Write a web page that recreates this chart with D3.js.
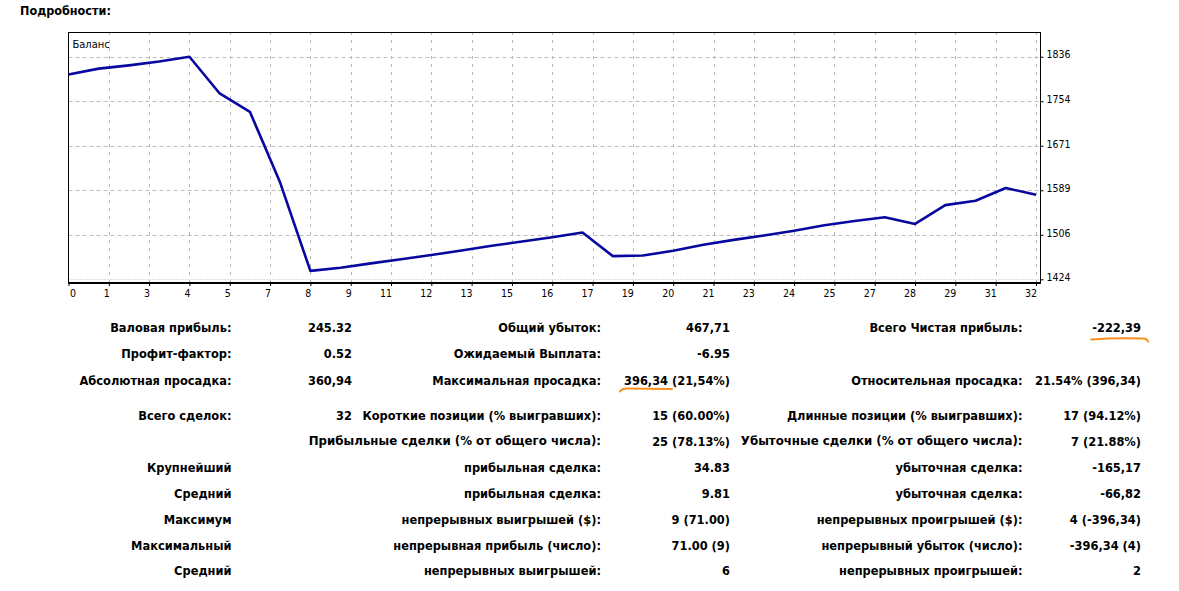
<!DOCTYPE html>
<html><head><meta charset="utf-8">
<script src="https://cdn.jsdelivr.net/npm/d3@7"></script>
<style>
body{margin:0;background:#fff;}
svg{display:block;}
</style></head><body>
<svg id="c" width="1179" height="591"></svg>
<script>
// ---- data ----
const tradeNo = [0,1,2,3,4,5,6,7,8,9,10,11,12,13,14,15,16,17,18,19,20,21,22,23,24,25,26,27,28,29,30,31,32];
const balance = [1803,1814,1820,1827,1836,1768,1734,1603,1439.66,1445.5,1453.5,1461,1469,1477.5,1486,1494,1502,1510.66,1467,1468,1477,1488,1497,1505,1514,1524,1532,1539,1526.5,1561.3,1569.5,1593,1580.6];
const xTickLabels = ["0","1","3","4","5","7","8","9","11","12","13","15","16","17","19","20","21","23","24","25","27","28","29","31","32"];
const yTickValues = [1424,1506.4,1588.8,1671.2,1753.6,1836];
const yTickLabels = ["1424","1506","1589","1671","1754","1836"];
const seriesName = "Баланс";
const titleText = "Подробности:";

const statLabels1 = ["Валовая прибыль:","Профит-фактор:","Абсолютная просадка:","Всего сделок:","","Крупнейший","Средний","Максимум","Максимальный","Средний"];
const statValues1 = ["245.32","0.52","360,94","32","","","","","",""];
const statLabels2 = ["Общий убыток:","Ожидаемый Выплата:","Максимальная просадка:","Короткие позиции (% выигравших):","Прибыльные сделки (% от общего числа):","прибыльная сделка:","прибыльная сделка:","непрерывных выигрышей ($):","непрерывная прибыль (число):","непрерывных выигрышей:"];
const statValues2 = ["467,71","-6.95","396,34 (21,54%)","15 (60.00%)","25 (78.13%)","34.83","9.81","9 (71.00)","71.00 (9)","6"];
const statLabels3 = ["Всего Чистая прибыль:","","Относительная просадка:","Длинные позиции (% выигравших):","Убыточные сделки (% от общего числа):","убыточная сделка:","убыточная сделка:","непрерывных проигрышей ($):","непрерывный убыток (число):","непрерывных проигрышей:"];
const statValues3 = ["-222,39","","21.54% (396,34)","17 (94.12%)","7 (21.88%)","-165,17","-66,82","4 (-396,34)","-396,34 (4)","2"];

// ---- layout ----
const svg = d3.select("#c");
const F = "'DejaVu Sans Condensed','Liberation Sans Narrow','Liberation Sans',sans-serif";
const P = {left:68.5, right:1040.5, top:32, bottom:283};
const x = d3.scaleLinear().domain([0,32]).range([68.5,1036]);
const y = d3.scaleLinear().domain([1417.2,1882.3]).range([283,31.7]);
const xTickPos = xTickLabels.map((d,i)=> i*32/(xTickLabels.length-1));

svg.append("text").attr("x",20).attr("y",14.5).text(titleText)
  .attr("font-family",F).attr("font-weight","bold").attr("font-size",12.5).attr("fill","#000");

// grid
const grid = svg.append("g");
grid.selectAll(".vg").data(xTickPos.slice(1)).join("line")
  .attr("x1",d=>Math.round(x(d))+0.5).attr("x2",d=>Math.round(x(d))+0.5)
  .attr("y1",P.top).attr("y2",P.bottom)
  .attr("stroke","#b8b8b8").attr("stroke-width",1).attr("stroke-dasharray","3,5");
grid.selectAll(".hg").data(yTickValues).join("line")
  .attr("x1",P.left).attr("x2",P.right)
  .attr("y1",d=>Math.round(y(d))+0.5).attr("y2",d=>Math.round(y(d))+0.5)
  .attr("stroke","#bdbdbd").attr("stroke-width",1)
  .attr("stroke-dasharray",(d,i)=> i===0 ? "1,2" : "4,3");

// frame
svg.append("rect").attr("x",P.left).attr("y",P.top+0.5).attr("width",P.right-P.left).attr("height",P.bottom-P.top-0.5)
  .attr("fill","none").attr("stroke","#000").attr("stroke-width",1);
svg.append("line").attr("x1",P.left-0.5).attr("x2",P.right+0.5).attr("y1",P.bottom).attr("y2",P.bottom)
  .attr("stroke","#000").attr("stroke-width",2);

// axes
const xa = svg.append("g").attr("transform",`translate(0,${P.bottom})`)
  .call(d3.axisBottom(x).tickValues(xTickPos).tickFormat((d,i)=>xTickLabels[i]).tickSizeInner(3).tickSizeOuter(0));
xa.select(".domain").remove();
xa.selectAll("line").attr("stroke","#000");
xa.selectAll("text").attr("font-family",F).attr("font-size",10.5).attr("fill","#000")
  .attr("y",7).attr("text-anchor",(d,i)=> i===0 ? "start":"end").attr("dx",(d,i)=> i===0 ? 1 : 0.5);

const ya = svg.append("g").attr("transform",`translate(${P.right},0)`)
  .call(d3.axisRight(y).tickValues(yTickValues).tickFormat((d,i)=>yTickLabels[i]).tickSizeInner(3).tickSizeOuter(0));
ya.select(".domain").remove();
ya.selectAll("line").attr("stroke","#000");
ya.selectAll("text").attr("font-family",F).attr("font-size",10.5).attr("fill","#000").attr("dy","0.12em");

// series
svg.append("path").datum(balance)
  .attr("d", d3.line().x((d,i)=>x(tradeNo[i])).y(d=>y(d)))
  .attr("fill","none").attr("stroke","#0808a0").attr("stroke-width",2.6).attr("stroke-linejoin","round");

svg.append("text").attr("x",72.5).attr("y",48).text(seriesName)
  .attr("font-family",F).attr("font-size",11).attr("fill","#000");

// stats table
const rowY = [327,353,380,415,441,467,493,519,545,570];
const colX = [231.5,352,601,730,1022.5,1141];
const cols = [statLabels1,statValues1,statLabels2,statValues2,statLabels3,statValues3];
const tbl = svg.append("g");
const cellNodes = {};
cols.forEach((arr,ci)=>{
  arr.forEach((t,ri)=>{
    if(!t) return;
    const small = (ri===4 && (ci===2||ci===4));
    const n = tbl.append("text").attr("x",colX[ci]).attr("y",rowY[ri]).attr("dy","0.36em")
      .attr("text-anchor","end").text(t)
      .attr("font-family", small ? "'DejaVu Sans',sans-serif" : F)
      .attr("font-weight","bold").attr("font-size", small ? 11.8 : 12.7).attr("fill","#000");
    cellNodes[ci+"_"+ri] = n.node();
  });
});

// orange hand-drawn underlines
function underline(node, nChars, off, hook){
  const a = node.getStartPositionOfChar(0).x;
  const b = node.getEndPositionOfChar(nChars-1).x;
  const by = +node.getAttribute("y") + off;
  let d;
  if(hook==="right") d = `M${a-1},${by+1} Q${(a+b)/2},${by-1} ${b+2},${by} Q${b+6},${by} ${b+7},${by+3}`;
  else d = `M${a-4},${by+2} Q${a-2},${by-1} ${a+3},${by-1} L${b+4},${by-0.5}`;
  svg.append("path").attr("d",d).attr("fill","none").attr("stroke","#f7901e").attr("stroke-width",2).attr("stroke-linecap","round");
}
underline(cellNodes["5_0"], 7, 11.5, "right");
underline(cellNodes["3_2"], 6, 9.5, "left");
</script>
</body></html>
